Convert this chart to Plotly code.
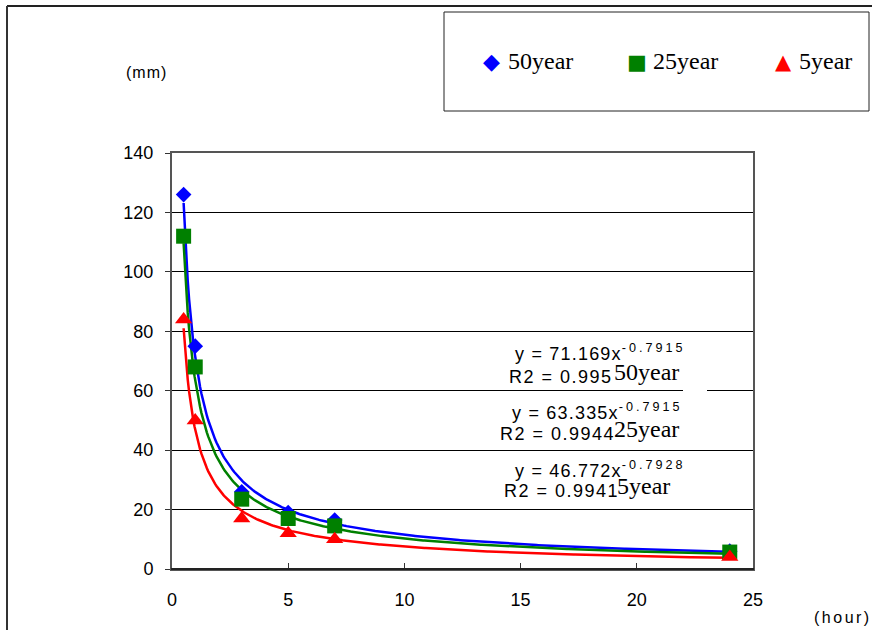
import numpy as np
import plotly.graph_objects as go

# ---- data ----
hours = [0.5, 1, 3, 5, 7, 24]
rain_50 = [126, 75, 26, 19, 16.5, 6]
rain_25 = [112, 68, 23.5, 17, 14.5, 5.7]
rain_5 = [84, 50, 17, 12, 10, 4]
series_names = ["50year", "25year", "5year"]
fit_a = [71.169, 63.335, 46.772]
fit_b = [-0.7915, -0.7915, -0.7928]
fit_r2 = ["0.995", "0.9944", "0.9941"]
x_ticks = [0, 5, 10, 15, 20, 25]
y_ticks = [0, 20, 40, 60, 80, 100, 120, 140]

W, H = 872, 630
def px(x):
    return x / W
def py(y):
    return 1 - y / H

colors = ["#0000FF", "#008000", "#FF0000"]
symbols = ["diamond", "square", "triangle-up"]
glyphs = ["\u25C6", "\u25A0", "\u25B2"]
glyph_sizes = [22, 21, 21]
msizes = [12, 15, 15]

fig = go.Figure()
xs = np.linspace(min(hours), max(hours), 400)
for a, b, c in zip(fit_a, fit_b, colors):
    fig.add_trace(go.Scatter(x=xs, y=a * xs ** b, mode="lines",
                             line=dict(color=c, width=2.5), showlegend=False,
                             hoverinfo="skip"))
for vals, name, c, s, ms in zip([rain_50, rain_25, rain_5], series_names, colors, symbols, msizes):
    fig.add_trace(go.Scatter(x=hours, y=vals, mode="markers", name=name,
                             marker=dict(color=c, symbol=s, size=ms, line=dict(width=0)),
                             cliponaxis=False, showlegend=False))

fig.update_layout(
    width=W, height=H,
    margin=dict(l=0, r=0, t=0, b=0),
    paper_bgcolor="white", plot_bgcolor="white",
    font=dict(family="Liberation Sans", size=16, color="black"),
    showlegend=False,
    xaxis=dict(domain=[px(172), px(753)], range=[0, 25], tickvals=x_ticks,
               showgrid=False, zeroline=False, showline=True, linecolor="#555555",
               linewidth=2, mirror=True, ticks="inside", ticklen=6, tickcolor="#333333",
               ticklabelstandoff=13, tickfont=dict(size=18), automargin=False),
    yaxis=dict(domain=[py(569), py(153)], range=[0, 140], tickvals=y_ticks,
               showgrid=True, gridcolor="black", gridwidth=1, zeroline=False,
               showline=True, linecolor="#555555", linewidth=2, mirror=True,
               ticks="outside", ticklen=5, tickcolor="#333333",
               ticklabelstandoff=8, tickfont=dict(size=18), automargin=False),
)

shapes = [
    # bottom axis darker
    dict(type="line", xref="paper", yref="paper", x0=px(171), x1=px(754), y0=py(569), y1=py(569),
         line=dict(color="#222222", width=2)),
    # outer frame
    dict(type="line", xref="paper", yref="paper", x0=px(7), x1=px(872), y0=py(6), y1=py(6),
         line=dict(color="#222222", width=2)),
    dict(type="line", xref="paper", yref="paper", x0=px(7), x1=px(7), y0=py(6), y1=py(630),
         line=dict(color="#333333", width=2)),
    # legend box
    dict(type="rect", xref="paper", yref="paper", x0=px(444), x1=px(869), y0=py(12), y1=py(111),
         line=dict(color="#222222", width=1), fillcolor="rgba(0,0,0,0)"),
    # label box gap
    dict(type="rect", xref="paper", yref="paper", x0=px(683), x1=px(707), y0=py(395), y1=py(387),
         line=dict(width=0), fillcolor="white", layer="above"),
]
fig.update_layout(shapes=shapes)

def spaced(t, ls):
    return "<span style='letter-spacing:%spx'>%s</span>" % (ls, t)

ann = [
    dict(text=spaced("(mm)", 1), x=px(124), y=py(72), xanchor="left", yanchor="middle",
         font=dict(size=16)),
    dict(text=spaced("(hour)", 2.5), x=px(812), y=py(617), xanchor="left", yanchor="middle",
         font=dict(size=16)),
]
# legend entries
key_x = [492, 637, 783]
for i in range(3):
    ann.append(dict(text=glyphs[i], x=px(key_x[i]), y=py(62), xanchor="center", yanchor="middle",
                    font=dict(family="DejaVu Sans", size=glyph_sizes[i], color=colors[i])))
    ann.append(dict(text=series_names[i], x=px(key_x[i] + 14), y=py(61), xanchor="left",
                    yanchor="middle", font=dict(family="Liberation Serif", size=24)))

eq_x = [513, 510, 513]
eq_y = [352, 411, 469]
r2_y = [377, 434, 491]
lab_x = [612, 612, 615]
r2_x = [507, 498, 502]
for i in range(3):
    ann.append(dict(text=spaced("y = %.3fx" % fit_a[i], 1.2)
                    + "<sup>" + spaced("%.4f" % fit_b[i], 3) + "</sup>",
                    x=px(eq_x[i]), y=py(eq_y[i]), xanchor="left", yanchor="middle",
                    font=dict(size=18)))
    ann.append(dict(text=spaced("R2 = %s" % fit_r2[i], 1.5), x=px(r2_x[i]), y=py(r2_y[i]),
                    xanchor="left", yanchor="middle", font=dict(size=18)))
    ann.append(dict(text=series_names[i], x=px(lab_x[i]), y=py(r2_y[i] - 5),
                    xanchor="left", yanchor="middle",
                    font=dict(family="Liberation Serif", size=24)))
for a_ in ann:
    a_["showarrow"] = False
    a_["xref"] = "paper"
    a_["yref"] = "paper"
fig.update_layout(annotations=ann)

fig.write_html("out.html", config={"displayModeBar": False},
               post_script="document.body.style.margin='0';document.body.style.overflow='hidden';")
